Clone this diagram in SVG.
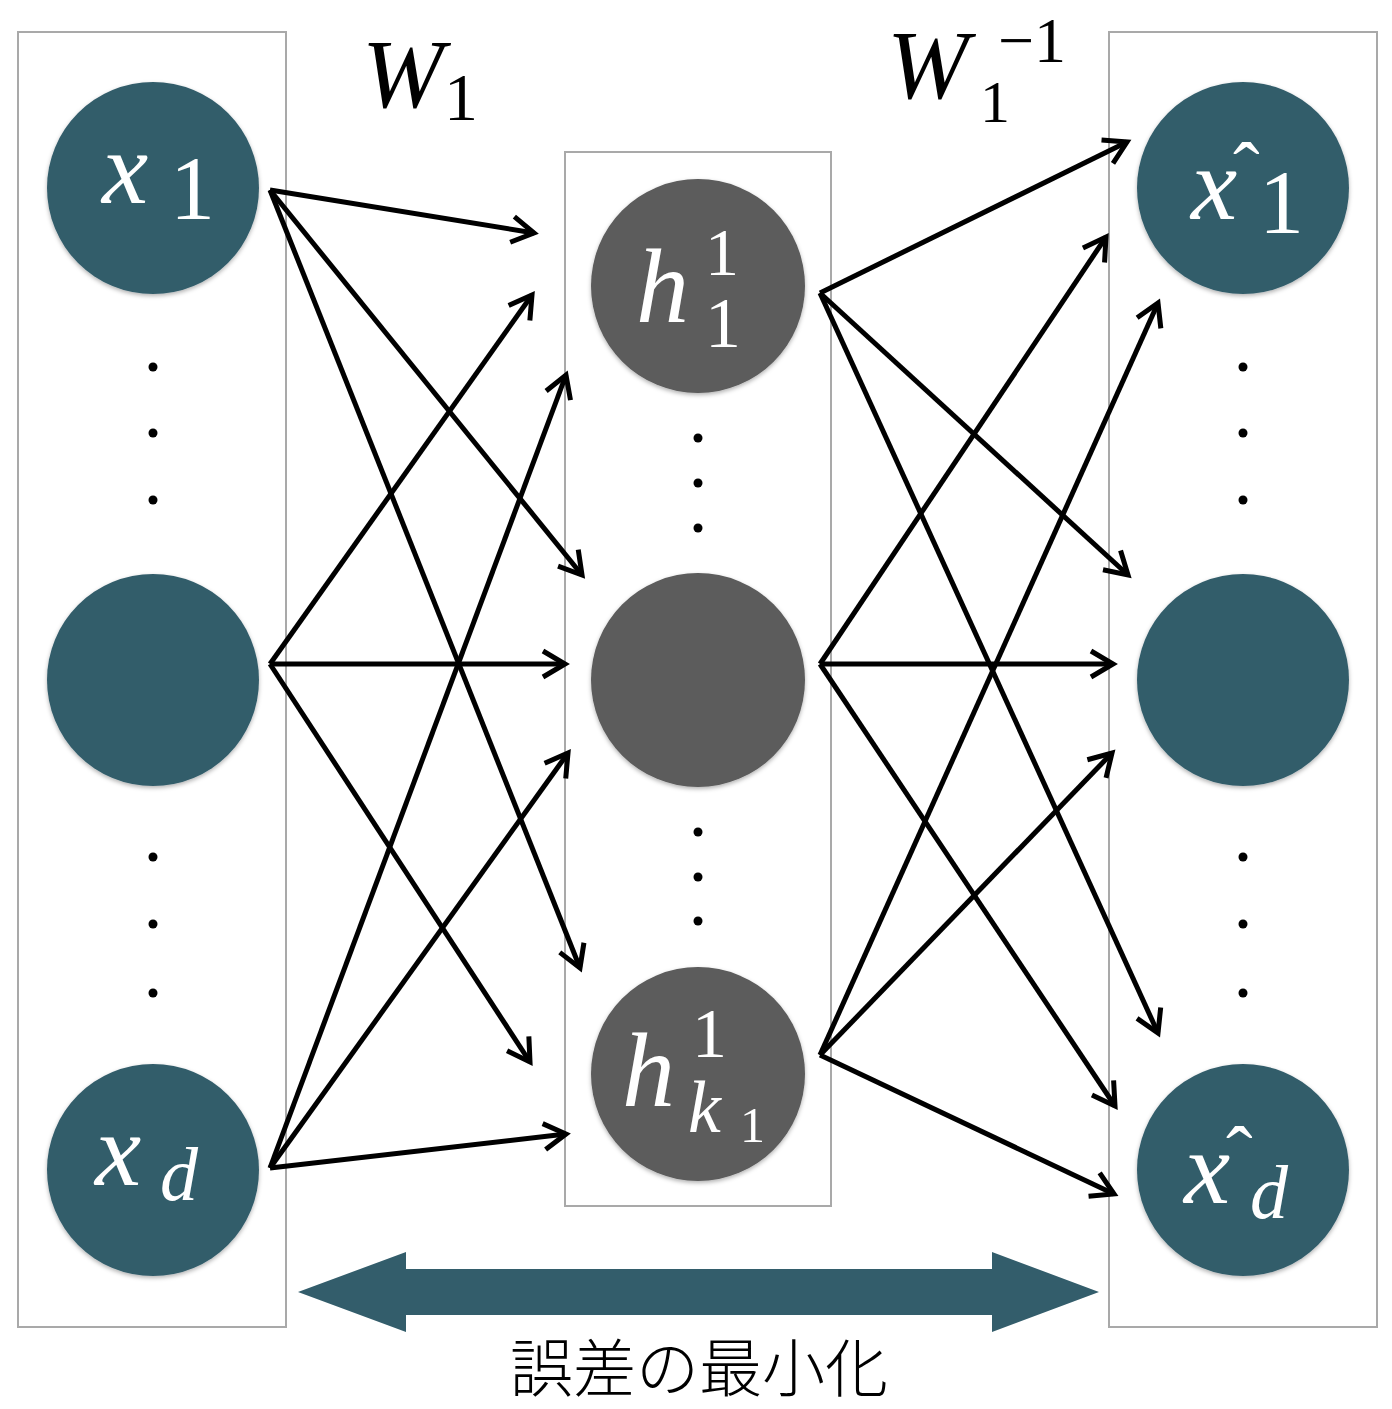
<svg xmlns="http://www.w3.org/2000/svg" width="1392" height="1409" viewBox="0 0 1392 1409">
  <style>
    .frame { fill: none; stroke: #a9a9a9; stroke-width: 2; }
    .io { fill: #335d6b; filter: url(#soft); }
    .hid { fill: #5b5b5b; filter: url(#soft); }
    .dot { fill: #000; }
    .it { font-family: "Liberation Serif", "DejaVu Serif", serif; font-style: italic; }
    .rm { font-family: "Liberation Serif", "DejaVu Serif", serif; }
  </style>
  <defs>
    <filter id="soft" x="-10%" y="-10%" width="120%" height="125%">
      <feDropShadow dx="0" dy="2" stdDeviation="2" flood-color="#000" flood-opacity="0.3"/>
    </filter>
    <marker id="head" markerUnits="userSpaceOnUse" markerWidth="48" markerHeight="48" viewBox="-32 -24 40 48" refX="0" refY="0" orient="auto">
      <path d="M-22,-13 L0,0 L-22,13" fill="none" stroke="#000" stroke-width="5"/>
    </marker>
  </defs>

  <!-- layer frames -->
  <g id="frames">
    <rect class="frame" x="18" y="32" width="268" height="1295"/>
    <rect class="frame" x="565" y="152" width="266" height="1054"/>
    <rect class="frame" x="1109" y="32" width="268" height="1295"/>
  </g>

  <!-- weight labels -->
  <g id="label-w1" fill="#000">
    <text class="it" x="362" y="107" font-size="98">W</text>
    <text class="rm" x="444" y="120" font-size="68">1</text>
  </g>
  <g id="label-w1inv" fill="#000">
    <text class="it" x="887" y="98" font-size="98">W</text>
    <text class="rm" x="980" y="122" font-size="60">1</text>
    <text class="rm" x="998" y="62" font-size="64">−1</text>
  </g>

  <!-- connectors -->
  <g id="connectors" fill="none" stroke="#000" stroke-width="5" marker-end="url(#head)">
    <line x1="270" y1="190" x2="534" y2="233"/>
    <line x1="270" y1="190" x2="582" y2="575"/>
    <line x1="270" y1="190" x2="580" y2="968"/>
    <line x1="270" y1="664" x2="532" y2="295"/>
    <line x1="270" y1="664" x2="565" y2="664"/>
    <line x1="270" y1="664" x2="530" y2="1062"/>
    <line x1="270" y1="1168" x2="566" y2="375"/>
    <line x1="270" y1="1168" x2="568" y2="753"/>
    <line x1="270" y1="1168" x2="566" y2="1134"/>

    <line x1="820" y1="293" x2="1127" y2="142"/>
    <line x1="820" y1="293" x2="1128" y2="575"/>
    <line x1="820" y1="293" x2="1158" y2="1033"/>
    <line x1="820" y1="664" x2="1106" y2="237"/>
    <line x1="820" y1="664" x2="1113" y2="664"/>
    <line x1="820" y1="664" x2="1115" y2="1106"/>
    <line x1="820" y1="1055" x2="1158" y2="303"/>
    <line x1="820" y1="1055" x2="1112" y2="753"/>
    <line x1="820" y1="1055" x2="1114" y2="1194"/>
  </g>

  <!-- input layer -->
  <g id="node-x1" fill="#fff">
    <circle class="io" cx="153" cy="188" r="106"/>
    <text class="it" x="102" y="203" font-size="104">x</text>
    <text class="rm" x="170" y="219" font-size="90">1</text>
  </g>
  <g id="node-xm">
    <circle class="io" cx="153" cy="680" r="106"/>
  </g>
  <g id="node-xd" fill="#fff">
    <circle class="io" cx="153" cy="1170" r="106"/>
    <text class="it" x="95" y="1185" font-size="104">x</text>
    <text class="it" x="160" y="1200" font-size="76">d</text>
  </g>
  <g id="dots-in">
    <circle class="dot" cx="153" cy="367" r="4.5"/>
    <circle class="dot" cx="153" cy="433" r="4.5"/>
    <circle class="dot" cx="153" cy="500" r="4.5"/>
    <circle class="dot" cx="153" cy="857" r="4.5"/>
    <circle class="dot" cx="153" cy="924" r="4.5"/>
    <circle class="dot" cx="153" cy="993" r="4.5"/>
  </g>

  <!-- hidden layer -->
  <g id="node-h1" fill="#fff">
    <circle class="hid" cx="698" cy="286" r="107"/>
    <text class="it" x="636" y="322" font-size="106">h</text>
    <text class="rm" x="705" y="275" font-size="68">1</text>
    <text class="rm" x="705" y="347" font-size="72">1</text>
  </g>
  <g id="node-hm">
    <circle class="hid" cx="698" cy="680" r="107"/>
  </g>
  <g id="node-hk" fill="#fff">
    <circle class="hid" cx="698" cy="1074" r="107"/>
    <text class="it" x="622" y="1106" font-size="106">h</text>
    <text class="rm" x="692" y="1057" font-size="70">1</text>
    <text class="it" x="688" y="1132" font-size="74">k</text>
    <text class="rm" x="740" y="1142" font-size="50">1</text>
  </g>
  <g id="dots-hid">
    <circle class="dot" cx="698" cy="438" r="4.5"/>
    <circle class="dot" cx="698" cy="483" r="4.5"/>
    <circle class="dot" cx="698" cy="528" r="4.5"/>
    <circle class="dot" cx="698" cy="832" r="4.5"/>
    <circle class="dot" cx="698" cy="877" r="4.5"/>
    <circle class="dot" cx="698" cy="921" r="4.5"/>
  </g>

  <!-- output layer -->
  <g id="node-xh1" fill="#fff">
    <circle class="io" cx="1243" cy="188" r="106"/>
    <text class="it" x="1191" y="219" font-size="104">x</text>
    <text class="rm" x="1233" y="198" font-size="80">ˆ</text>
    <text class="rm" x="1259" y="233" font-size="90">1</text>
  </g>
  <g id="node-xhm">
    <circle class="io" cx="1243" cy="680" r="106"/>
  </g>
  <g id="node-xhd" fill="#fff">
    <circle class="io" cx="1243" cy="1170" r="106"/>
    <text class="it" x="1184" y="1203" font-size="104">x</text>
    <text class="rm" x="1226" y="1182" font-size="80">ˆ</text>
    <text class="it" x="1250" y="1218" font-size="76">d</text>
  </g>
  <g id="dots-out">
    <circle class="dot" cx="1243" cy="367" r="4.5"/>
    <circle class="dot" cx="1243" cy="433" r="4.5"/>
    <circle class="dot" cx="1243" cy="500" r="4.5"/>
    <circle class="dot" cx="1243" cy="857" r="4.5"/>
    <circle class="dot" cx="1243" cy="924" r="4.5"/>
    <circle class="dot" cx="1243" cy="993" r="4.5"/>
  </g>

  <!-- reconstruction error arrow -->
  <g id="error-arrow">
    <polygon fill="#335d6b" points="298,1292 406,1252 406,1269 992,1269 992,1252 1099,1292 992,1332 992,1315 406,1315 406,1332"/>
    <text x="699" y="1391" font-size="63" font-weight="300" text-anchor="middle" fill="#000" font-family="'Noto Sans CJK JP', 'Noto Sans', sans-serif">誤差の最小化</text>
  </g>
</svg>
